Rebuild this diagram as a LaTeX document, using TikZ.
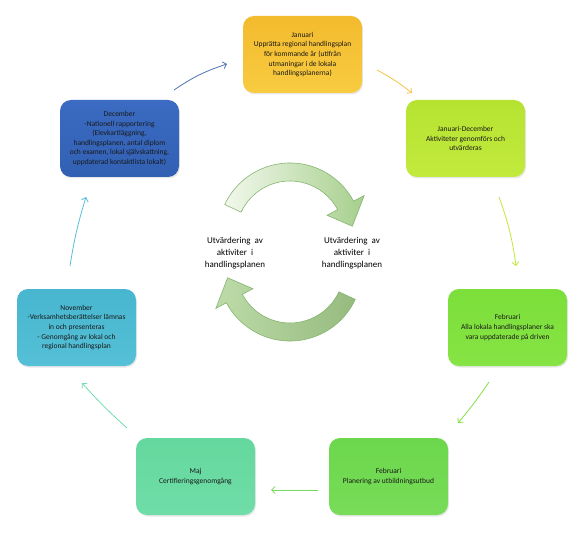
\documentclass[tikz,border=0pt]{standalone}
\usepackage{fontspec}
\setmainfont{Carlito}
\usetikzlibrary{arrows.meta,shadows}
\definecolor{cJan}{HTML}{F3BB2E}
\definecolor{cJanB}{HTML}{F8CB40}
\definecolor{cJD}{HTML}{B6E332}
\definecolor{cJDB}{HTML}{C2EA3C}
\definecolor{cFeb}{HTML}{7CDF3A}
\definecolor{cFebB}{HTML}{86E444}
\definecolor{cPlan}{HTML}{6CD74C}
\definecolor{cPlanB}{HTML}{78DC58}
\definecolor{cMaj}{HTML}{64D89E}
\definecolor{cMajB}{HTML}{70DDA8}
\definecolor{cNov}{HTML}{47B6CE}
\definecolor{cNovB}{HTML}{55C0D8}
\definecolor{cDec}{HTML}{3B6BC2}
\definecolor{cDecB}{HTML}{3160B3}
\definecolor{aDec}{HTML}{4F74B5}
\definecolor{aJan}{HTML}{F5C444}
\definecolor{aJD}{HTML}{BFE83A}
\definecolor{aFeb}{HTML}{86E046}
\definecolor{aPlan}{HTML}{74D85A}
\definecolor{aMaj}{HTML}{70DDAE}
\definecolor{aNov}{HTML}{58BFD8}
\definecolor{ringL}{HTML}{F2F8EC}
\definecolor{ringR}{HTML}{A6CF8C}
\definecolor{ringE}{HTML}{86B571}
\begin{document}
\begin{tikzpicture}[x=1pt,y=-1pt,
  monthbox/.style={rounded corners=11pt, minimum width=119pt, minimum height=77pt,
    inner sep=2pt, align=center, font=\fontsize{7.5}{9.6}\selectfont, text=black!90,
    drop shadow={opacity=0.18, shadow xshift=1pt, shadow yshift=-1.5pt}},
  flow/.style={line width=0.8pt, -{Straight Barb[length=3.5pt,width=7pt]}},
  ring/.style={draw=ringE, line width=0.6pt},
  centertext/.style={align=center, font=\fontsize{9}{12}\selectfont}]
\fill[white] (0,0) rectangle (575,545);
\useasboundingbox (0,0) rectangle (575,545);

\node[monthbox, top color=cJan, bottom color=cJanB] (jan) at (302.5,54.5)
  {Januari\\Upprätta regional handlingsplan\\för kommande år (utifrån\\utmaningar i de lokala\\handlingsplanerna)};
\node[monthbox, top color=cJD, bottom color=cJDB] (jd) at (465.5,138.5)
  {Januari-December\\Aktiviteter genomförs och\\utvärderas};
\node[monthbox, top color=cFeb, bottom color=cFebB] (feb) at (507.5,327.5)
  {Februari\\Alla lokala handlingsplaner ska\\vara uppdaterade på driven};
\node[monthbox, top color=cPlan, bottom color=cPlanB] (plan) at (388.5,476.5)
  {Februari\\Planering av utbildningsutbud};
\node[monthbox, top color=cMaj, bottom color=cMajB] (maj) at (195.5,476.5)
  {Maj\\Certifieringsgenomgång};
\node[monthbox, top color=cNov, bottom color=cNovB] (nov) at (76.5,327.5)
  {November\\-Verksamhetsberättelser lämnas\\in och presenteras\\- Genomgång av lokal och\\regional handlingsplan};
\node[monthbox, top color=cDec, bottom color=cDecB] (dec) at (119.5,138.5)
  {December\\-Nationell rapportering\\(Elevkartläggning,\\handlingsplanen, antal diplom\\och examen, lokal självskattning,\\uppdaterad kontaktlista lokalt)};

% connector end points
\coordinate (a1s) at (174,90);  \coordinate (a1e) at (227,64);
\coordinate (a2s) at (377,70);  \coordinate (a2e) at (412,93);
\coordinate (a3s) at (499,197); \coordinate (a3e) at (516,266);
\coordinate (a4s) at (489,382); \coordinate (a4e) at (458,423);
\coordinate (a5s) at (318,490); \coordinate (a5e) at (271,490);
\coordinate (a6s) at (127,428); \coordinate (a6e) at (82,383);
\coordinate (a7s) at (70,266);  \coordinate (a7e) at (86,197);

\draw[flow, aDec] (a1s) to[bend left=8] (a1e);
\draw[flow, aJan] (a2s) to[bend left=5] (a2e);
\draw[flow, aJD] (a3s) to[bend left=6] (a3e);
\draw[flow, aFeb] (a4s) to[bend left=3] (a4e);
\draw[flow, aPlan] (a5s) -- (a5e);
\draw[flow, aMaj] (a6s) to[bend left=3] (a6e);
\draw[flow, aNov] (a7s) to[bend left=4] (a7e);

% central circular arrows
\begin{scope}[shift={(290,235)}, yscale=-1]
  \path[ring, left color=ringL, right color=ringR]
    (155:54) -- (155:72) arc[start angle=155, end angle=28, radius=72]
    -- (28:84) -- (8:63) -- (28:42) -- (28:54)
    arc[start angle=28, end angle=155, radius=54] -- cycle;
\end{scope}
\begin{scope}[shift={(290,269)}, yscale=-1, rotate=180]
  \path[ring, left color=ringR!70!ringL, right color=ringR!90!black]
    (155:54) -- (155:72) arc[start angle=155, end angle=28, radius=72]
    -- (28:84) -- (8:63) -- (28:42) -- (28:54)
    arc[start angle=28, end angle=155, radius=54] -- cycle;
\end{scope}

\node[centertext] (evalL) at (235,253) {Utvärdering\ \ av\\aktiviter\ \ i\\handlingsplanen};
\node[centertext] (evalR) at (352,253) {Utvärdering\ \ av\\aktiviter\ \ i\\handlingsplanen};
\end{tikzpicture}
\end{document}
